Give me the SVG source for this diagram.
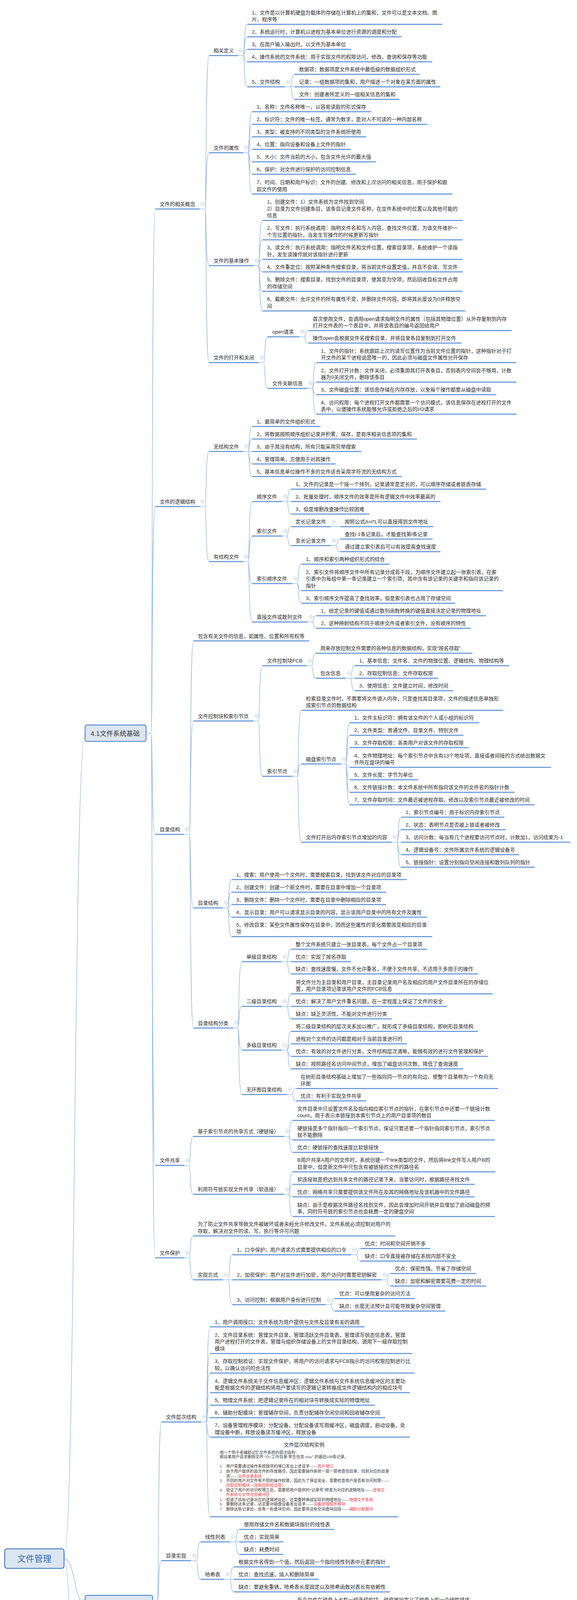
<svg xmlns="http://www.w3.org/2000/svg" xmlns:xlink="http://www.w3.org/1999/xlink" width="1478" height="6091" viewBox="0 0 1478 6091">
<style>
.t{font-family:"Liberation Sans","Noto Sans CJK SC",sans-serif;font-size:13px;fill:#2a2a2a}
.u{stroke:#5b8ed5;stroke-width:2.5;fill:none}
.c{stroke:#7da5db;stroke-width:1.1;fill:none}
.b{fill:#dce6f2;stroke:#5b8ed5;stroke-width:2.5}
.bt{font-family:"Liberation Sans","Noto Sans CJK SC",sans-serif;font-size:17px;fill:#333}
.im{font-family:"Liberation Serif","Noto Sans CJK SC",serif;font-size:10.2px;fill:#3a3a3a}
.r{fill:#e8474f}
</style>
<defs>
<g id="o"><circle r="4.2" fill="#fff" stroke="#a6b7cc" stroke-width="1"/><path d="M-2.2 0H2.2" stroke="#a6b7cc" stroke-width="1"/></g>
</defs>
<rect width="1478" height="6091" fill="#fff"/>
<g id="connectors">
<path class="c" d="M164 3990C193 3990 189 1877 218 1877M164 3990C193 3990 189 4105 218 4105M164 3990C193 3990 189 5344 218 5344"/>
<path class="c" d="M374 1877H387M387 1877C391 1877 388 535 397.5 535M387 1877C391 1877 388 1296.7 397.5 1296.7M387 1877C391 1877 388 2136 397.5 2136M387 1877C391 1877 388 2983.3 397.5 2983.3M387 1877C391 1877 388 3220 397.5 3220"/>
<path class="c" d="M391 4105H403M403 4105C407 4105 404 3640.3 413.5 3640.3M403 4105C407 4105 404 3995.3 413.5 3995.3M403 4105C407 4105 404 4572 413.5 4572"/>
<path class="c" d="M391 5344H403M403 5344C407 5344 404 5089.3 413.5 5089.3M403 5344C407 5344 404 5600 413.5 5600"/>
<path class="c" d="M511 535H525M525 535C529 535 526 142.3 535.5 142.3M525 535C529 535 526 391 535.5 391M525 535C529 535 526 680 535.5 680M525 535C529 535 526 928.3 535.5 928.3"/>
<path class="c" d="M609.7 142.3H623M623 142.3C627 142.3 624 62.3 633.5 62.3M623 142.3C627 142.3 624 94.3 633.5 94.3M623 142.3C627 142.3 624 126.3 633.5 126.3M623 142.3C627 142.3 624 158.3 633.5 158.3M623 142.3C627 142.3 624 222.3 633.5 222.3"/>
<path class="c" d="M730 222.3H754.6M744 222.3C748 222.3 745 190.3 754.6 190.3M744 222.3C748 222.3 745 254.3 754.6 254.3"/>
<path class="c" d="M623 391H635.5M635.5 391C639.5 391 636.5 286 646 286M635.5 391C639.5 391 636.5 318.3 646 318.3M635.5 391C639.5 391 636.5 350.3 646 350.3M635.5 391C639.5 391 636.5 382.3 646 382.3M635.5 391C639.5 391 636.5 414.3 646 414.3M635.5 391C639.5 391 636.5 446 646 446M635.5 391C639.5 391 636.5 496.7 646 496.7"/>
<path class="c" d="M649.6 680H662M662 680C666 680 663 564.3 672.7 564.3M662 680C666 680 663 614 672.7 614M662 680C666 680 663 664 672.7 664M662 680C666 680 663 696 672.7 696M662 680C666 680 663 745.7 672.7 745.7M662 680C666 680 663 796 672.7 796"/>
<path class="c" d="M663 928.3H675.5M675.5 928.3C679.5 928.3 676.5 862.3 686 862.3M675.5 928.3C679.5 928.3 676.5 994.3 686 994.3"/>
<path class="c" d="M766.5 862.3H779M779 862.3C783 862.3 780 846.3 789.7 846.3M779 862.3C783 862.3 780 878.3 789.7 878.3"/>
<path class="c" d="M787.6 994.3H800M800 994.3C804 994.3 801 928.3 810.7 928.3M800 994.3C804 994.3 801 978.3 810.7 978.3M800 994.3C804 994.3 801 1010.3 810.7 1010.3M800 994.3C804 994.3 801 1060.3 810.7 1060.3"/>
<path class="c" d="M511 1296.7H525M525 1296.7C529 1296.7 526 1155.7 535.5 1155.7M525 1296.7C529 1296.7 526 1437.7 535.5 1437.7"/>
<path class="c" d="M623 1155.7H646M635.5 1155.7C639.5 1155.7 636.5 1091.7 646 1091.7M635.5 1155.7C639.5 1155.7 636.5 1124 646 1124M635.5 1155.7C639.5 1155.7 636.5 1187.7 646 1187.7M635.5 1155.7C639.5 1155.7 636.5 1220 646 1220"/>
<path class="c" d="M623 1437.7H635.5M635.5 1437.7C639.5 1437.7 636.5 1284 646 1284M635.5 1437.7C639.5 1437.7 636.5 1372.3 646 1372.3M635.5 1437.7C639.5 1437.7 636.5 1494 646 1494M635.5 1437.7C639.5 1437.7 636.5 1592.3 646 1592.3"/>
<path class="c" d="M723 1284H745.5M735 1284C739 1284 736 1252.3 745.5 1252.3M735 1284C739 1284 736 1316 745.5 1316"/>
<path class="c" d="M723 1372.3H735M735 1372.3C739 1372.3 736 1348.3 745.5 1348.3M735 1372.3C739 1372.3 736 1396.7 745.5 1396.7"/>
<path class="c" d="M847 1348.3H871.6"/>
<path class="c" d="M847 1396.7H861M861 1396.7C865 1396.7 862 1380 871.6 1380M861 1396.7C865 1396.7 862 1412.3 871.6 1412.3"/>
<path class="c" d="M749 1494H761.5M761.5 1494C765.5 1494 762.5 1444.3 772 1444.3M761.5 1494C765.5 1494 762.5 1512 772 1512M761.5 1494C765.5 1494 762.5 1544.3 772 1544.3"/>
<path class="c" d="M787.6 1592.3H800M800 1592.3C804 1592.3 801 1576.3 810.7 1576.3M800 1592.3C804 1592.3 801 1608.3 810.7 1608.3"/>
<path class="c" d="M471 2136H485M485 2136C489 2136 486 1640.7 495.5 1640.7M485 2136C489 2136 486 1845.7 495.5 1845.7M485 2136C489 2136 486 2324.3 495.5 2324.3M485 2136C489 2136 486 2631.7 495.5 2631.7"/>
<path class="c" d="M649.6 1845.7H662M662 1845.7C666 1845.7 663 1704.3 672.7 1704.3M662 1845.7C666 1845.7 663 1987.3 672.7 1987.3"/>
<path class="c" d="M786 1704.3H798.5M798.5 1704.3C802.5 1704.3 799.5 1672.3 809 1672.3M798.5 1704.3C802.5 1704.3 799.5 1736.3 809 1736.3"/>
<path class="c" d="M885.6 1736.3H908.7M898 1736.3C902 1736.3 899 1704.3 908.7 1704.3M898 1736.3C902 1736.3 899 1768.3 908.7 1768.3"/>
<path class="c" d="M749 1987.3H761.5M761.5 1987.3C765.5 1987.3 762.5 1818.3 772 1818.3M761.5 1987.3C765.5 1987.3 762.5 1955.7 772 1955.7M761.5 1987.3C765.5 1987.3 762.5 2156 772 2156"/>
<path class="c" d="M873.7 1955.7H885.5M885.5 1955.7C889.5 1955.7 886.5 1850.3 896 1850.3M885.5 1955.7C889.5 1955.7 886.5 1882.3 896 1882.3M885.5 1955.7C889.5 1955.7 886.5 1914 896 1914M885.5 1955.7C889.5 1955.7 886.5 1964.3 896 1964.3M885.5 1955.7C889.5 1955.7 886.5 1996.3 896 1996.3M885.5 1955.7C889.5 1955.7 886.5 2028.3 896 2028.3M885.5 1955.7C889.5 1955.7 886.5 2060.3 896 2060.3"/>
<path class="c" d="M1003 2156H1027.7M1017 2156C1021 2156 1018 2092 1027.7 2092M1017 2156C1021 2156 1018 2124 1027.7 2124M1017 2156C1021 2156 1018 2188 1027.7 2188M1017 2156C1021 2156 1018 2220 1027.7 2220"/>
<path class="c" d="M570.5 2324.3H583M583 2324.3C587 2324.3 584 2251.7 593.6 2251.7M583 2324.3C587 2324.3 584 2284 593.6 2284M583 2324.3C587 2324.3 584 2315.7 593.6 2315.7M583 2324.3C587 2324.3 584 2348 593.6 2348M583 2324.3C587 2324.3 584 2397.7 593.6 2397.7"/>
<path class="c" d="M597 2631.7H609M609 2631.7C613 2631.7 610 2462 619.7 2462M609 2631.7C613 2631.7 610 2576.3 619.7 2576.3M609 2631.7C613 2631.7 610 2688.3 619.7 2688.3M609 2631.7C613 2631.7 610 2802 619.7 2802"/>
<path class="c" d="M721 2462H745.5M735 2462C739 2462 736 2430 745.5 2430M735 2462C739 2462 736 2493.3 745.5 2493.3"/>
<path class="c" d="M721.6 2576.3H746M735.5 2576.3C739.5 2576.3 736.5 2544.3 746 2544.3M735.5 2576.3C739.5 2576.3 736.5 2608.3 746 2608.3"/>
<path class="c" d="M721.6 2688.3H735.5M735.5 2688.3C739.5 2688.3 736.5 2640.3 746 2640.3M735.5 2688.3C739.5 2688.3 736.5 2672.3 746 2672.3M735.5 2688.3C739.5 2688.3 736.5 2704.3 746 2704.3M735.5 2688.3C739.5 2688.3 736.5 2736.3 746 2736.3"/>
<path class="c" d="M735.5 2802H748M748 2802C752 2802 749 2786.7 758.3 2786.7M748 2802C752 2802 749 2818.3 758.3 2818.3"/>
<path class="c" d="M472 2983.3H484.5M484.5 2983.3C488.5 2983.3 485.5 2909.3 495 2909.3M484.5 2983.3C488.5 2983.3 485.5 3057.3 495 3057.3"/>
<path class="c" d="M727.3 2909.3H739.5M739.5 2909.3C743.5 2909.3 740.5 2868.3 750 2868.3M739.5 2909.3C743.5 2909.3 740.5 2918.3 750 2918.3M739.5 2909.3C743.5 2909.3 740.5 2950 750 2950"/>
<path class="c" d="M727.3 3057.3H739.5M739.5 3057.3C743.5 3057.3 740.5 3000 750 3000M739.5 3057.3C743.5 3057.3 740.5 3032 750 3032M739.5 3057.3C743.5 3057.3 740.5 3064 750 3064M739.5 3057.3C743.5 3057.3 740.5 3114.3 750 3114.3"/>
<path class="c" d="M472 3220H484.5M484.5 3220C488.5 3220 485.5 3164 495 3164M484.5 3220C488.5 3220 485.5 3276.3 495 3276.3"/>
<path class="c" d="M570.8 3276.3H595.3M584.8 3276.3C588.8 3276.3 585.8 3212.3 595.3 3212.3M584.8 3276.3C588.8 3276.3 585.8 3340 595.3 3340"/>
<path class="c" d="M899.3 3212.3H912.5M912.5 3212.3C916.5 3212.3 913.5 3196.3 923 3196.3M912.5 3212.3C916.5 3212.3 913.5 3228.3 923 3228.3"/>
<path class="c" d="M976.7 3276.3H989.8M989.8 3276.3C993.8 3276.3 990.8 3260.3 1000.3 3260.3M989.8 3276.3C993.8 3276.3 990.8 3292.3 1000.3 3292.3"/>
<path class="c" d="M834 3340H847.2M847.2 3340C851.2 3340 848.2 3324.3 857.7 3324.3M847.2 3340C851.2 3340 848.2 3356.3 857.7 3356.3"/>
<path class="c" d="M515.4 3640.3H527.7M527.7 3640.3C531.7 3640.3 528.7 3396.7 538.2 3396.7M527.7 3640.3C531.7 3640.3 528.7 3465 538.2 3465M527.7 3640.3C531.7 3640.3 528.7 3515 538.2 3515M527.7 3640.3C531.7 3640.3 528.7 3565.3 538.2 3565.3M527.7 3640.3C531.7 3640.3 528.7 3597.3 538.2 3597.3M527.7 3640.3C531.7 3640.3 528.7 3629.3 538.2 3629.3M527.7 3640.3C531.7 3640.3 528.7 3679 538.2 3679M527.7 3640.3C531.7 3640.3 528.7 3883 538.2 3883"/>
<path class="c" d="M489.3 3995.3H503.3M503.3 3995.3C507.3 3995.3 504.3 3947.3 513.8 3947.3M503.3 3995.3C507.3 3995.3 504.3 4043 513.8 4043"/>
<path class="c" d="M588.8 3947.3H613.2M602.7 3947.3C606.7 3947.3 603.7 3915.3 613.2 3915.3M602.7 3947.3C606.7 3947.3 603.7 3979.3 613.2 3979.3"/>
<path class="c" d="M575 4043H599.3M588.8 4043C592.8 4043 589.8 4011.3 599.3 4011.3M588.8 4043C592.8 4043 589.8 4075.3 599.3 4075.3"/>
<path class="c" d="M489.3 4572H503.3M503.3 4572C507.3 4572 504.3 4356 513.8 4356M503.3 4572C507.3 4572 504.3 4788.3 513.8 4788.3"/>
<path class="c" d="M627.9 4356H640.2M640.2 4356C644.2 4356 641.2 4155.3 650.7 4155.3M640.2 4356C644.2 4356 641.2 4339.7 650.7 4339.7M640.2 4356C644.2 4356 641.2 4557 650.7 4557"/>
<path class="c" d="M727.3 4155.3H739.5M739.5 4155.3C743.5 4155.3 740.5 4107.7 750 4107.7M739.5 4155.3C743.5 4155.3 740.5 4139.3 750 4139.3M739.5 4155.3C743.5 4155.3 740.5 4171 750 4171M739.5 4155.3C743.5 4155.3 740.5 4203 750 4203"/>
<path class="c" d="M727.3 4339.7H739.5M739.5 4339.7C743.5 4339.7 740.5 4235.3 750 4235.3M739.5 4339.7C743.5 4339.7 740.5 4267.3 750 4267.3M739.5 4339.7C743.5 4339.7 740.5 4331.3 750 4331.3M739.5 4339.7C743.5 4339.7 740.5 4445.3 750 4445.3"/>
<path class="c" d="M825 4331.3H848M837.5 4331.3C841.5 4331.3 838.5 4299.3 848 4299.3M837.5 4331.3C841.5 4331.3 838.5 4363 848 4363"/>
<path class="c" d="M825 4445.3H848M837.5 4445.3C841.5 4445.3 838.5 4413 848 4413M837.5 4445.3C841.5 4445.3 838.5 4477.3 848 4477.3"/>
<path class="c" d="M727.3 4557H739.5M739.5 4557C743.5 4557 740.5 4509.3 750 4509.3M739.5 4557C743.5 4557 740.5 4541.3 750 4541.3M739.5 4557C743.5 4557 740.5 4605 750 4605"/>
<path class="c" d="M825 4605H848M837.5 4605C841.5 4605 838.5 4573.3 848 4573.3M837.5 4605C841.5 4605 838.5 4637 848 4637"/>
<path class="c" d="M640 4788.3H654M654 4788.3C658 4788.3 655 4669.3 664.5 4669.3M654 4788.3C658 4788.3 655 4701.3 664.5 4701.3M654 4788.3C658 4788.3 655 4776.3 664.5 4776.3M654 4788.3C658 4788.3 655 4851.3 664.5 4851.3M654 4788.3C658 4788.3 655 4908.3 664.5 4908.3"/>
<path class="c" d="M751.8 4776.3H764M764 4776.3C768 4776.3 765 4751.3 774.6 4751.3M764 4776.3C768 4776.3 765 4801 774.6 4801"/>
<path class="c" d="M738 4851.3H762.3"/>
<path class="c" d="M751.8 4908.3H764M764 4908.3C768 4908.3 765 4883.3 774.6 4883.3M764 4908.3C768 4908.3 765 4933.3 774.6 4933.3"/>
<path class="c" d="M489.3 5089.3H503.3M503.3 5089.3C507.3 5089.3 504.3 4992 513.8 4992M503.3 5089.3C507.3 5089.3 504.3 5024 513.8 5024M503.3 5089.3C507.3 5089.3 504.3 5074 513.8 5074M503.3 5089.3C507.3 5089.3 504.3 5106 513.8 5106M503.3 5089.3C507.3 5089.3 504.3 5186 513.8 5186"/>
<path class="c" d="M588.8 5186H601M601 5186C605 5186 602 5138.3 611.6 5138.3M601 5186C605 5186 602 5170 611.6 5170M601 5186C605 5186 602 5202.3 611.6 5202.3M601 5186C605 5186 602 5234.3 611.6 5234.3"/>
<path class="c" d="M515.4 5600H527.7M527.7 5600C531.7 5600 528.7 5298.3 538.2 5298.3M527.7 5600C531.7 5600 528.7 5554 538.2 5554M527.7 5600C531.7 5600 528.7 5903 538.2 5903"/>
<path class="c" d="M640 5298.3H663M652.5 5298.3C656.5 5298.3 653.5 5266.7 663 5266.7M652.5 5298.3C656.5 5298.3 653.5 5330 663 5330"/>
<path class="c" d="M640 5554H652.5M652.5 5554C656.5 5554 653.5 5394 663 5394M652.5 5554C656.5 5554 653.5 5490 663 5490M652.5 5554C656.5 5554 653.5 5585.7 663 5585.7M652.5 5554C656.5 5554 653.5 5650 663 5650M652.5 5554C656.5 5554 653.5 5682.3 663 5682.3M652.5 5554C656.5 5554 653.5 5714.3 663 5714.3"/>
<path class="c" d="M839.8 5394H862.6M852 5394C856 5394 853 5362.3 862.6 5362.3M852 5394C856 5394 853 5426 862.6 5426"/>
<path class="c" d="M876.5 5490H901M890.5 5490C894.5 5490 891.5 5458.3 901 5458.3M890.5 5490C894.5 5490 891.5 5522.3 901 5522.3"/>
<path class="c" d="M807 5585.7H829M818.5 5585.7C822.5 5585.7 819.5 5554 829 5554M818.5 5585.7C822.5 5585.7 819.5 5618.3 829 5618.3"/>
<path class="c" d="M856 5650H880.5M835.7 5682.3H861.8M778.6 5714.3H803"/>
<path class="c" d="M627.9 5903H640.2M640.2 5903C644.2 5903 641.2 5789 650.7 5789M640.2 5903C644.2 5903 641.2 5905.7 650.7 5905.7M640.2 5903C644.2 5903 641.2 6018.3 650.7 6018.3"/>
<path class="c" d="M739.5 5789H751.8M751.8 5789C755.8 5789 752.8 5764 762.3 5764M751.8 5789C755.8 5789 752.8 5814 762.3 5814"/>
<path class="c" d="M713.4 5905.7H725.8M725.8 5905.7C729.8 5905.7 726.8 5864 736.3 5864M725.8 5905.7C729.8 5905.7 726.8 5914 736.3 5914M725.8 5905.7C729.8 5905.7 726.8 5946.3 736.3 5946.3"/>
<path class="c" d="M698.8 6018.3H711M711 6018.3C715 6018.3 712 5978 721.6 5978M711 6018.3C715 6018.3 712 6010 721.6 6010M711 6018.3C715 6018.3 712 6058 721.6 6058"/>
<path class="c" d="M799 6058H810.5M810.5 6058C814.5 6058 811.5 6042.3 821 6042.3M810.5 6058C814.5 6058 811.5 6074.7 821 6074.7"/>
</g>
<g id="root"><rect x="12" y="3965" width="152" height="50" rx="6" fill="#dce6f2" stroke="#4f81bd" stroke-width="2.5"/><text x="88" y="3998" text-anchor="middle" style="font-family:'Liberation Sans','Noto Sans CJK SC',sans-serif;font-size:22px;fill:#2f6bb5">文件管理</text></g>
<g id="b41"><rect class="b" x="218" y="1856" width="156" height="42" rx="5"/><text class="bt" x="232" y="1883.5">4.1文件系统基础</text><use href="#o" x="379" y="1877"/></g>
<g id="b42"><rect class="b" x="218" y="4084" width="173" height="42" rx="5"/><text class="bt" x="232.5" y="4111.5">4.2文件系统的实现</text><use href="#o" x="396" y="4105"/></g>
<g id="b43"><rect class="b" x="218" y="5323" width="173" height="42" rx="5"/><text class="bt" x="232.5" y="5350.5">4.3磁盘组织与管理</text><use href="#o" x="396" y="5344"/></g>
<g id="nodes">
<g id="n0"><text class="t" x="409" y="527">文件的相关概念</text><path class="u" d="M397.5 535H511"/><use href="#o" x="519" y="522"/></g>
<g id="n1"><text class="t" x="547" y="134.3">相关定义</text><path class="u" d="M535.5 142.3H609.7"/><use href="#o" x="617.7" y="129.3"/></g>
<g id="n2"><text class="t" x="645" y="36.7">1、文件是以计算机硬盘为载体的存储在计算机上的集和，文件可以是文本文档、图<tspan x="645" dy="17.6">片、程序等</tspan></text><path class="u" d="M633.5 62.3H1133"/></g>
<g id="n3"><text class="t" x="645" y="86.3">2、系统运行时，计算机以进程为基本单位进行资源的调度和分配</text><path class="u" d="M633.5 94.3H1029"/></g>
<g id="n4"><text class="t" x="645" y="118.3">3、在用户输入输出时，以文件为基本单位</text><path class="u" d="M633.5 126.3H899"/></g>
<g id="n5"><text class="t" x="645" y="150.3">4、操作系统的文件系统：用于实现文件的权限访问，修改，查询和保存等功能</text><path class="u" d="M633.5 158.3H1107"/></g>
<g id="n6"><text class="t" x="645" y="214.3">5、文件结构</text><path class="u" d="M633.5 222.3H730"/><use href="#o" x="738" y="209.3"/></g>
<g id="n7"><text class="t" x="766" y="182.3">数据项：数据项是文件系统中最低级的数据组织形式</text><path class="u" d="M754.6 190.3H1075"/></g>
<g id="n8"><text class="t" x="766" y="214.3">记录：一组数据项的集和，用户描述一个对象在某方面的属性</text><path class="u" d="M754.6 222.3H1128"/></g>
<g id="n9"><text class="t" x="766" y="246.3">文件：创建者所定义的一组相关信息的集和</text><path class="u" d="M754.6 254.3H1023.5"/></g>
<g id="n10"><text class="t" x="547" y="383">文件的属性</text><path class="u" d="M535.5 391H623"/><use href="#o" x="631" y="378"/></g>
<g id="n11"><text class="t" x="657.5" y="278">1、名称：文件名称唯一，以容易读取的形式保存</text><path class="u" d="M646 286H950.7"/></g>
<g id="n12"><text class="t" x="657.5" y="310.3">2、标识符：文件的唯一标签，通常为数字，是对人不可读的一种内部名称</text><path class="u" d="M646 318.3H1094"/></g>
<g id="n13"><text class="t" x="657.5" y="342.3">3、类型：被支持的不同类型的文件系统所使用</text><path class="u" d="M646 350.3H938"/></g>
<g id="n14"><text class="t" x="657.5" y="374.3">4、位置：指向设备和设备上文件的指针</text><path class="u" d="M646 382.3H899"/></g>
<g id="n15"><text class="t" x="657.5" y="406.3">5、大小：文件当前的大小，包含文件允许的最大值</text><path class="u" d="M646 414.3H963"/></g>
<g id="n16"><text class="t" x="657.5" y="438">6、保护：对文件进行保护的访问控制信息</text><path class="u" d="M646 446H912"/></g>
<g id="n17"><text class="t" x="657.5" y="471.1">7、时间、日期和用户标识：文件的创建、修改和上次访问的相关信息，用于保护和跟<tspan x="657.5" dy="17.6">踪文件的使用</tspan></text><path class="u" d="M646 496.7H1159"/></g>
<g id="n18"><text class="t" x="547" y="672">文件的基本操作</text><path class="u" d="M535.5 680H649.6"/><use href="#o" x="657.6" y="667"/></g>
<g id="n19"><text class="t" x="684" y="521.1">1、创建文件：1）文件系统为文件找到空间<tspan x="684" dy="17.6">2）目录为文件创建条目，该条目记录文件名称，在文件系统中的位置以及其他可能的</tspan><tspan x="684" dy="17.6">信息</tspan></text><path class="u" d="M672.7 564.3H1185"/></g>
<g id="n20"><text class="t" x="684" y="588.4">2、写文件：执行系统调用：指明文件名和写入内容，查找文件位置，为该文件维护一<tspan x="684" dy="17.6">个写位置的指针，当发生写操作的时候更新写指针</tspan></text><path class="u" d="M672.7 614H1185"/></g>
<g id="n21"><text class="t" x="684" y="638.4">3、读文件：执行系统调用：指明文件名和文件位置，搜索目录项，系统维护一个读指<tspan x="684" dy="17.6">针，发生读操作就对该指针进行更新</tspan></text><path class="u" d="M672.7 664H1185"/></g>
<g id="n22"><text class="t" x="684" y="688">4、文件重定位：按照某种条件搜索目录，将当前文件设置定值，并且不会读、写文件</text><path class="u" d="M672.7 696H1185"/></g>
<g id="n23"><text class="t" x="684" y="720.1">5、删除文件：搜索目录，找到文件的目录项，使其变为空项，然后回收目标文件占用<tspan x="684" dy="17.6">的存储空间</tspan></text><path class="u" d="M672.7 745.7H1185"/></g>
<g id="n24"><text class="t" x="684" y="770.4">6、截断文件：允许文件的所有属性不变，并删除文件内容，即将其长度设为0并释放空<tspan x="684" dy="17.6">间</tspan></text><path class="u" d="M672.7 796H1192"/></g>
<g id="n25"><text class="t" x="547" y="920.3">文件的打开和关闭</text><path class="u" d="M535.5 928.3H663"/><use href="#o" x="671" y="915.3"/></g>
<g id="n26"><text class="t" x="697.5" y="854.3">open请求</text><path class="u" d="M686 862.3H766.5"/><use href="#o" x="774.5" y="849.3"/></g>
<g id="n27"><text class="t" x="801" y="820.7">首次使用文件，会调用open请求指明文件的属性（包括其物理位置）从外存复制到内存<tspan x="801" dy="17.6">打开文件表的一个表目中，并将该表目的编号返回给用户</tspan></text><path class="u" d="M789.7 846.3H1311"/></g>
<g id="n28"><text class="t" x="801" y="870.3">操作open会根据文件名搜索目录，并将目录条目复制到打开文件</text><path class="u" d="M789.7 878.3H1182"/></g>
<g id="n29"><text class="t" x="697.5" y="986.3">文件关联信息</text><path class="u" d="M686 994.3H787.6"/><use href="#o" x="795.6" y="981.3"/></g>
<g id="n30"><text class="t" x="822" y="902.7">1、文件的指针：系统跟踪上次的读写位置作为当前文件位置的指针，这种指针对于打<tspan x="822" dy="17.6">开文件的某个进程说是唯一的，因此必须与磁盘文件属性分开保存</tspan></text><path class="u" d="M810.7 928.3H1323"/></g>
<g id="n31"><text class="t" x="822" y="952.7">2、文件打开计数：文件关闭，必须重用其打开表条目，否则表内空间会不够用，计数<tspan x="822" dy="17.6">器为0关闭文件，删除该条目</tspan></text><path class="u" d="M810.7 978.3H1323"/></g>
<g id="n32"><text class="t" x="822" y="1002.3">3、文件磁盘位置：该信息存储在内存存放，以免每个操作都要从磁盘中读取</text><path class="u" d="M810.7 1010.3H1271"/></g>
<g id="n33"><text class="t" x="822" y="1034.7">4、访问权限：每个进程打开文件都需要一个访问模式，该信息保存在进程打开的文件<tspan x="822" dy="17.6">表中，以便操作系统能够允许或拒绝之后的I/O请求</tspan></text><path class="u" d="M810.7 1060.3H1323"/></g>
<g id="n34"><text class="t" x="409" y="1288.7">文件的逻辑结构</text><path class="u" d="M397.5 1296.7H511"/><use href="#o" x="519" y="1283.7"/></g>
<g id="n35"><text class="t" x="547" y="1147.7">无结构文件</text><path class="u" d="M535.5 1155.7H623"/><use href="#o" x="631" y="1142.7"/></g>
<g id="n36"><text class="t" x="657.5" y="1083.7">1、最简单的文件组织形式</text><path class="u" d="M646 1091.7H821"/></g>
<g id="n37"><text class="t" x="657.5" y="1116">2、将数据按照顺序组织记录并积累、保存，是有序相关信息项的集和</text><path class="u" d="M646 1124H1068"/></g>
<g id="n38"><text class="t" x="657.5" y="1147.7">3、由于其没有结构，所有只能采用穷举搜索</text><path class="u" d="M646 1155.7H925"/></g>
<g id="n39"><text class="t" x="657.5" y="1179.7">4、管理简单，方便用于对其操作</text><path class="u" d="M646 1187.7H860"/></g>
<g id="n40"><text class="t" x="657.5" y="1212">5、基本信息单位操作不多的文件适合采用字符流的无结构方式</text><path class="u" d="M646 1220H1029"/></g>
<g id="n41"><text class="t" x="547" y="1429.7">有结构文件</text><path class="u" d="M535.5 1437.7H623"/><use href="#o" x="631" y="1424.7"/></g>
<g id="n42"><text class="t" x="657.5" y="1276">顺序文件</text><path class="u" d="M646 1284H723"/><use href="#o" x="731" y="1271"/></g>
<g id="n43"><text class="t" x="757" y="1244.3">1、文件的记录是一个接一个排列，记录通常是定长的，可以顺序存储或者链表存储</text><path class="u" d="M745.5 1252.3H1245"/></g>
<g id="n44"><text class="t" x="757" y="1276">2、批量处理时，顺序文件的效率是所有逻辑文件中效率最高的</text><path class="u" d="M745.5 1284H1128"/></g>
<g id="n45"><text class="t" x="757" y="1308">3、但是增删改查操作比较困难</text><path class="u" d="M745.5 1316H946"/></g>
<g id="n46"><text class="t" x="657.5" y="1364.3">索引文件</text><path class="u" d="M646 1372.3H723"/><use href="#o" x="731" y="1359.3"/></g>
<g id="n47"><text class="t" x="757" y="1340.3">定长记录文件</text><path class="u" d="M745.5 1348.3H847"/><use href="#o" x="855" y="1335.3"/></g>
<g id="n48"><text class="t" x="883" y="1340.3">按照公式A=i*L可以直接得到文件地址</text><path class="u" d="M871.6 1348.3H1110"/></g>
<g id="n49"><text class="t" x="757" y="1388.7">变长记录文件</text><path class="u" d="M745.5 1396.7H847"/><use href="#o" x="855" y="1383.7"/></g>
<g id="n50"><text class="t" x="883" y="1372">查找i-1条记录后，才能查找第i条记录</text><path class="u" d="M871.6 1380H1108"/></g>
<g id="n51"><text class="t" x="883" y="1404.3">通过建立索引表后可以有效提高查找速度</text><path class="u" d="M871.6 1412.3H1128"/></g>
<g id="n52"><text class="t" x="657.5" y="1486">索引顺序文件</text><path class="u" d="M646 1494H749"/><use href="#o" x="757" y="1481"/></g>
<g id="n53"><text class="t" x="783.5" y="1436.3">1、顺序和索引两种组织形式的结合</text><path class="u" d="M772 1444.3H998"/></g>
<g id="n54"><text class="t" x="783.5" y="1468.8">2、索引文件将顺序文件中所有记录分成若干段，为顺序文件建立起一张索引表，在索<tspan x="783.5" dy="17.6">引表中为每组中第一条记录建立一个索引项，其中含有该记录的关键字和指向该记录的</tspan><tspan x="783.5" dy="17.6">指针</tspan></text><path class="u" d="M772 1512H1289"/></g>
<g id="n55"><text class="t" x="783.5" y="1536.3">3、索引顺序文件提高了查找效率，但是索引表也占用了存储空间</text><path class="u" d="M772 1544.3H1166"/></g>
<g id="n56"><text class="t" x="657.5" y="1584.3">直接文件或散列文件</text><path class="u" d="M646 1592.3H787.6"/><use href="#o" x="795.6" y="1579.3"/></g>
<g id="n57"><text class="t" x="822" y="1568.3">1、给定记录的键值或通过散列函数转换的键值直接决定记录的物理地址</text><path class="u" d="M810.7 1576.3H1245"/></g>
<g id="n58"><text class="t" x="822" y="1600.3">2、这种映射结构不同于顺序文件或者索引文件，没有顺序的特性</text><path class="u" d="M810.7 1608.3H1206"/></g>
<g id="n59"><text class="t" x="409" y="2128">目录结构</text><path class="u" d="M397.5 2136H471"/><use href="#o" x="479" y="2123"/></g>
<g id="n60"><text class="t" x="507" y="1632.7">包含有关文件的信息，如属性、位置和所有权等</text><path class="u" d="M495.5 1640.7H792"/></g>
<g id="n61"><text class="t" x="507" y="1837.7">文件控制块和索引节点</text><path class="u" d="M495.5 1845.7H649.6"/><use href="#o" x="657.6" y="1832.7"/></g>
<g id="n62"><text class="t" x="684" y="1696.3">文件控制块FCB</text><path class="u" d="M672.7 1704.3H786"/><use href="#o" x="794" y="1691.3"/></g>
<g id="n63"><text class="t" x="820.5" y="1664.3">用来存放控制文件需要的各种信息的数据结构，实现“按名存取”</text><path class="u" d="M809 1672.3H1210"/></g>
<g id="n64"><text class="t" x="820.5" y="1728.3">包含信息</text><path class="u" d="M809 1736.3H885.6"/><use href="#o" x="893.6" y="1723.3"/></g>
<g id="n65"><text class="t" x="920" y="1696.3">1、基本信息：文件名、文件的物理位置、逻辑结构、物理结构等</text><path class="u" d="M908.7 1704.3H1304"/></g>
<g id="n66"><text class="t" x="920" y="1728.3">2、存取控制信息：文件存取权限</text><path class="u" d="M908.7 1736.3H1122"/></g>
<g id="n67"><text class="t" x="920" y="1760.3">3、使用信息：文件建立时间，修改时间</text><path class="u" d="M908.7 1768.3H1161"/></g>
<g id="n68"><text class="t" x="684" y="1979.3">索引节点</text><path class="u" d="M672.7 1987.3H749"/><use href="#o" x="757" y="1974.3"/></g>
<g id="n69"><text class="t" x="783.5" y="1792.7">检索目录文件时，不需要将文件调入内存，只是查找其目录项，文件的描述信息单独形<tspan x="783.5" dy="17.6">成索引节点的数据结构</tspan></text><path class="u" d="M772 1818.3H1289"/></g>
<g id="n70"><text class="t" x="783.5" y="1947.7">磁盘索引节点</text><path class="u" d="M772 1955.7H873.7"/><use href="#o" x="881.7" y="1942.7"/></g>
<g id="n71"><text class="t" x="907.5" y="1842.3">1、文件主标识符：拥有该文件的个人或小组的标识符</text><path class="u" d="M896 1850.3H1227"/></g>
<g id="n72"><text class="t" x="907.5" y="1874.3">2、文件类型：普通文件、目录文件、特别文件</text><path class="u" d="M896 1882.3H1187"/></g>
<g id="n73"><text class="t" x="907.5" y="1906">3、文件存取权限：各类用户对该文件的存取权限</text><path class="u" d="M896 1914H1201"/></g>
<g id="n74"><text class="t" x="907.5" y="1938.7">4、文件物理地址：每个索引节点中含有13个地址项，直接或者间接的方式给出数据文<tspan x="907.5" dy="17.6">件所在盘块的编号</tspan></text><path class="u" d="M896 1964.3H1411.5"/></g>
<g id="n75"><text class="t" x="907.5" y="1988.3">5、文件长度：字节为单位</text><path class="u" d="M896 1996.3H1071"/></g>
<g id="n76"><text class="t" x="907.5" y="2020.3">6、文件链接计数：本文件系统中所有指向该文件的文件名的指针计数</text><path class="u" d="M896 2028.3H1318"/></g>
<g id="n77"><text class="t" x="907.5" y="2052.3">7、文件存取时间：文件最近被进程存取，修改以及索引节点最近被修改的时间</text><path class="u" d="M896 2060.3H1369.5"/></g>
<g id="n78"><text class="t" x="783.5" y="2148">文件打开后内存索引节点增加的内容</text><path class="u" d="M772 2156H1003"/><use href="#o" x="1011" y="2143"/></g>
<g id="n79"><text class="t" x="1039" y="2084">1、索引节点编号：用于标识内存索引节点</text><path class="u" d="M1027.7 2092H1292"/></g>
<g id="n80"><text class="t" x="1039" y="2116">2、状态：表明节点是否被上锁或者被修改</text><path class="u" d="M1027.7 2124H1295"/></g>
<g id="n81"><text class="t" x="1039" y="2148">3、访问计数：每当有几个进程要访问节点时，计数加1，访问结束为-1</text><path class="u" d="M1027.7 2156H1460.5"/></g>
<g id="n82"><text class="t" x="1039" y="2180">4、逻辑设备号：文件所属文件系统的逻辑设备号</text><path class="u" d="M1027.7 2188H1330"/></g>
<g id="n83"><text class="t" x="1039" y="2212">5、链接指针：设置分别指向空闲连接和散列队列的指针</text><path class="u" d="M1027.7 2220H1369.5"/></g>
<g id="n84"><text class="t" x="507" y="2316.3">目录结构</text><path class="u" d="M495.5 2324.3H570.5"/><use href="#o" x="578.5" y="2311.3"/></g>
<g id="n85"><text class="t" x="605" y="2243.7">1、搜索：用户使用一个文件时，需要搜索目录，找到该文件对应的目录项</text><path class="u" d="M593.6 2251.7H1042"/></g>
<g id="n86"><text class="t" x="605" y="2276">2、创建文件：创建一个新文件时，需要在目录中增加一个目录项</text><path class="u" d="M593.6 2284H989"/></g>
<g id="n87"><text class="t" x="605" y="2307.7">3、删除文件：删除一个文件时，需要在目录中删除相应的目录项</text><path class="u" d="M593.6 2315.7H989"/></g>
<g id="n88"><text class="t" x="605" y="2340">4、显示目录：用户可以请求显示目录的内容，显示该用户目录中的所有文件及属性</text><path class="u" d="M593.6 2348H1094"/></g>
<g id="n89"><text class="t" x="605" y="2372.1">5、修改目录：某些文件属性保存在目录中，因而这些属性的变化需要改变相应的目录<tspan x="605" dy="17.6">项</tspan></text><path class="u" d="M593.6 2397.7H1107"/></g>
<g id="n90"><text class="t" x="507" y="2623.7">目录结构分类</text><path class="u" d="M495.5 2631.7H597"/><use href="#o" x="605" y="2618.7"/></g>
<g id="n91"><text class="t" x="631" y="2454">单级目录结构</text><path class="u" d="M619.7 2462H721"/><use href="#o" x="729" y="2449"/></g>
<g id="n92"><text class="t" x="757" y="2422">整个文件系统只建立一张目录表，每个文件占一个目录项</text><path class="u" d="M745.5 2430H1094"/></g>
<g id="n93"><text class="t" x="757" y="2454">优点：实现了按名存取</text><path class="u" d="M745.5 2462H899"/></g>
<g id="n94"><text class="t" x="757" y="2485.3">缺点：查找速度慢，文件不允许重名，不便于文件共享，不适用于多用于的操作</text><path class="u" d="M745.5 2493.3H1224"/></g>
<g id="n95"><text class="t" x="631" y="2568.3">二级目录结构</text><path class="u" d="M619.7 2576.3H721.6"/><use href="#o" x="729.6" y="2563.3"/></g>
<g id="n96"><text class="t" x="757.5" y="2518.7">将文件分为主目录和用户目录，主目录记录用户名及相应的用户文件目录所在的存储位<tspan x="757.5" dy="17.6">置，用户目录项记录该用户文件的FCB信息</tspan></text><path class="u" d="M746 2544.3H1262"/></g>
<g id="n97"><text class="t" x="757.5" y="2568.3">优点：解决了用户文件重名问题，在一定程度上保证了文件的安全</text><path class="u" d="M746 2576.3H1145"/></g>
<g id="n98"><text class="t" x="757.5" y="2600.3">缺点：缺乏灵活性，不能对文件进行分类</text><path class="u" d="M746 2608.3H1003"/></g>
<g id="n99"><text class="t" x="631" y="2680.3">多级目录结构</text><path class="u" d="M619.7 2688.3H721.6"/><use href="#o" x="729.6" y="2675.3"/></g>
<g id="n100"><text class="t" x="757.5" y="2632.3">将二级目录结构的层次关系加以推广，就形成了多级目录结构，即树形目录结构</text><path class="u" d="M746 2640.3H1224.5"/></g>
<g id="n101"><text class="t" x="757.5" y="2664.3">进程对个文件的访问都是相对于当前目录进行的</text><path class="u" d="M746 2672.3H1042"/></g>
<g id="n102"><text class="t" x="757.5" y="2696.3">优点：有效的对文件进行分类，文件结构层次清晰，能够有效的进行文件管理和保护</text><path class="u" d="M746 2704.3H1250"/></g>
<g id="n103"><text class="t" x="757.5" y="2728.3">缺点：按照路径名访问中间节点，增加了磁盘访问次数，降低了查询速度</text><path class="u" d="M746 2736.3H1186"/></g>
<g id="n104"><text class="t" x="631" y="2794">无环图目录结构</text><path class="u" d="M619.7 2802H735.5"/><use href="#o" x="743.5" y="2789"/></g>
<g id="n105"><text class="t" x="770" y="2761.1">在树形目录结构基础上增加了一些指向同一节点的有向边，使整个目录称为一个有向无<tspan x="770" dy="17.6">环图</tspan></text><path class="u" d="M758.3 2786.7H1276"/></g>
<g id="n106"><text class="t" x="770" y="2810.3">优点：有利于实现文件共享</text><path class="u" d="M758.3 2818.3H938"/></g>
<g id="n107"><text class="t" x="409" y="2975.3">文件共享</text><path class="u" d="M397.5 2983.3H472"/><use href="#o" x="480" y="2970.3"/></g>
<g id="n108"><text class="t" x="506.5" y="2901.3">基于索引节点的共享方式（硬链接）</text><path class="u" d="M495 2909.3H727.3"/><use href="#o" x="735.3" y="2896.3"/></g>
<g id="n109"><text class="t" x="761.5" y="2842.7">文件目录中只设置文件名及指向相应索引节点的指针，在索引节点中还要一个链接计数<tspan x="761.5" dy="17.6">count，用于表示本链接到本索引节点上的用户目录项的数目</tspan></text><path class="u" d="M750 2868.3H1267.6"/></g>
<g id="n110"><text class="t" x="761.5" y="2892.7">硬链接是多个指针指向一个索引节点，保证只要还要一个指针指向索引节点，索引节点<tspan x="761.5" dy="17.6">就不能删除</tspan></text><path class="u" d="M750 2918.3H1267.6"/></g>
<g id="n111"><text class="t" x="761.5" y="2942">优点：硬链接的查找速度比软链接快</text><path class="u" d="M750 2950H982.4"/></g>
<g id="n112"><text class="t" x="506.5" y="3049.3">利用符号链实现文件共享（软连接）</text><path class="u" d="M495 3057.3H727.3"/><use href="#o" x="735.3" y="3044.3"/></g>
<g id="n113"><text class="t" x="761.5" y="2974.4">B用户共享A用户的文件时，系统创建一个link类型的文件，然后将link文件写入用户B的<tspan x="761.5" dy="17.6">目录中，但是新文件中只包含有被链接的文件的路径名</tspan></text><path class="u" d="M750 3000H1269"/></g>
<g id="n114"><text class="t" x="761.5" y="3024">软连接就是把达到共享文件的路径记录下来，当要访问时，根据路径寻找文件</text><path class="u" d="M750 3032H1216"/></g>
<g id="n115"><text class="t" x="761.5" y="3056">优点：网络共享只需要提供该文件所在及其的网络地址及该机器中的文件路径</text><path class="u" d="M750 3064H1216"/></g>
<g id="n116"><text class="t" x="761.5" y="3088.7">缺点：由于是根据文件路径名找到文件，因此会增加时间开销并且增加了启动磁盘的频<tspan x="761.5" dy="17.6">率，同时符号链的索引节点也会耗费一定的硬盘空间</tspan></text><path class="u" d="M750 3114.3H1267.6"/></g>
<g id="n117"><text class="t" x="409" y="3212">文件保护</text><path class="u" d="M397.5 3220H472"/><use href="#o" x="480" y="3207"/></g>
<g id="n118"><text class="t" x="506.5" y="3138.4">为了防止文件共享导致文件被破坏或者未经允许修改文件，文件系统必须控制对用户的<tspan x="506.5" dy="17.6">存取，解决对文件的读、写、执行等许可问题</tspan></text><path class="u" d="M495 3164H1012.5"/></g>
<g id="n119"><text class="t" x="506.5" y="3268.3">实现方式</text><path class="u" d="M495 3276.3H570.8"/><use href="#o" x="578.8" y="3263.3"/></g>
<g id="n120"><text class="t" x="606.8" y="3204.3">1、口令保护：用户请求方式需要提供相应的口令</text><path class="u" d="M595.3 3212.3H899.3"/><use href="#o" x="907.3" y="3199.3"/></g>
<g id="n121"><text class="t" x="934.5" y="3188.3">优点：时间和空间开销不多</text><path class="u" d="M923 3196.3H1102"/></g>
<g id="n122"><text class="t" x="934.5" y="3220.3">缺点：口令直接被存储在系统内部不安全</text><path class="u" d="M923 3228.3H1180"/></g>
<g id="n123"><text class="t" x="606.8" y="3268.3">2、加密保护：用户对文件进行加密，用户访问时需要密钥解密</text><path class="u" d="M595.3 3276.3H976.7"/><use href="#o" x="984.7" y="3263.3"/></g>
<g id="n124"><text class="t" x="1011.8" y="3252.3">优点：保密性强，节省了存储空间</text><path class="u" d="M1000.3 3260.3H1219"/></g>
<g id="n125"><text class="t" x="1011.8" y="3284.3">缺点：加密和解密需要花费一定的时间</text><path class="u" d="M1000.3 3292.3H1245"/></g>
<g id="n126"><text class="t" x="606.8" y="3332">3、访问控制：根据用户身份进行控制</text><path class="u" d="M595.3 3340H834"/><use href="#o" x="842" y="3327"/></g>
<g id="n127"><text class="t" x="869" y="3316.3">优点：可以使用复杂的访问方法</text><path class="u" d="M857.7 3324.3H1062"/></g>
<g id="n128"><text class="t" x="869" y="3348.3">缺点：长度无法预计且可能导致复杂空间管理</text><path class="u" d="M857.7 3356.3H1141"/></g>
<g id="n130"><text class="t" x="425" y="3632.3">文件层次结构</text><path class="u" d="M413.5 3640.3H515.4"/><use href="#o" x="523.4" y="3627.3"/></g>
<g id="n131"><text class="t" x="550" y="3388.7">1、用户调用接口：文件系统为用户提供与文件及目录有关的调用</text><path class="u" d="M538.2 3396.7H933.5"/></g>
<g id="n132"><text class="t" x="550" y="3421.8">2、文件目录系统：管理文件目录，管理活跃文件目录表，管理读写状态信息表，管理<tspan x="550" dy="17.6">用户进程打开的文件表，管理与组织存储设备上的文件目录结构，调用下一级存取控制</tspan><tspan x="550" dy="17.6">模块</tspan></text><path class="u" d="M538.2 3465H1055.7"/></g>
<g id="n133"><text class="t" x="550" y="3489.4">3、存取控制验证：实现文件保护，将用户的访问请求与FCB指示的访问权限控制进行比<tspan x="550" dy="17.6">较，以确认访问的合法性</tspan></text><path class="u" d="M538.2 3515H1061.4"/></g>
<g id="n134"><text class="t" x="550" y="3539.7">4、逻辑文件系统关于文件信息缓冲区：逻辑文件系统与文件系统信息缓冲区的主要功<tspan x="550" dy="17.6">能是根据文件的逻辑结构将用户要读写的逻辑记录转换成文件逻辑结构内的相应块号</tspan></text><path class="u" d="M538.2 3565.3H1050"/></g>
<g id="n135"><text class="t" x="550" y="3589.3">5、物理文件系统：把逻辑记录所在的相对块号转换成实际的物理地址</text><path class="u" d="M538.2 3597.3H960.4"/></g>
<g id="n136"><text class="t" x="550" y="3621.3">6、辅助分配模块：管理辅存空间，负责分配辅存空闲空间和回收辅存空间</text><path class="u" d="M538.2 3629.3H986.5"/></g>
<g id="n137"><text class="t" x="550" y="3653.4">7、设备管理程序模块：分配设备，分配设备读写用缓冲区，磁盘调度，启动设备，处<tspan x="550" dy="17.6">理设备中断，释放设备读写缓冲区，释放设备</tspan></text><path class="u" d="M538.2 3679H1050"/></g>
<g id="n138">
<text class="t" x="779" y="3702.5" text-anchor="middle">文件层次结构实例</text>
<text class="im" x="562.7" y="3721.5">用一个例子来辅助记忆文件系统的层次结构：</text>
<text class="im" x="562.7" y="3733">假设某用户请求删除文件 “D:/工作目录/学生信息.xlsx” 的最后100条记录。</text>
<text class="im" x="562.7" y="3757">1.</text><text class="im" x="579" y="3757">用户需要通过操作系统提供的接口发出上述请求——<tspan class="r">用户接口</tspan></text>
<text class="im" x="562.7" y="3770">2.</text><text class="im" x="579" y="3770">由于用户提供的是文件的存放路径，因此需要操作系统一层一层地查找目录，找到对应的目录</text>
<text class="im" x="579" y="3782.5">项——<tspan class="r">文件目录系统</tspan></text>
<text class="im" x="562.7" y="3794">3.</text><text class="im" x="579" y="3794">不同的用户对文件有不同的操作权限，因此为了保证安全，需要检查用户是否有访问权限——</text>
<text class="im r" x="579" y="3806">存取控制模块（存取控制验证层）</text>
<text class="im" x="562.7" y="3818">4.</text><text class="im" x="579" y="3818">验证了用户的访问权限之后，需要把用户提供的“记录号”转变为对应的逻辑地址——<tspan class="r">逻辑文</tspan></text>
<text class="im r" x="579" y="3830">件系统与文件信息缓冲区</text>
<text class="im" x="562.7" y="3842.5">5.</text><text class="im" x="579" y="3842.5">知道了目标记录对应的逻辑地址后，还需要转换成实际的物理地址——<tspan class="r">物理文件系统</tspan></text>
<text class="im" x="562.7" y="3854">6.</text><text class="im" x="579" y="3854">要删除这条记录，必定要对磁盘设备发出请求——<tspan class="r">设备管理程序模块</tspan></text>
<text class="im" x="562.7" y="3866.5">7.</text><text class="im" x="579" y="3866.5">删除这些记录后，会有一些盘块空闲，因此要将这些空闲盘块回收——<tspan class="r">辅助分配模块</tspan></text>
<path class="u" d="M538.2 3883H1019"/>
</g>
<g id="n139"><text class="t" x="425" y="3987.3">目录实现</text><path class="u" d="M413.5 3995.3H489.3"/><use href="#o" x="497.3" y="3982.3"/></g>
<g id="n140"><text class="t" x="525.3" y="3939.3">线性列表</text><path class="u" d="M513.8 3947.3H588.8"/><use href="#o" x="596.8" y="3934.3"/></g>
<g id="n141"><text class="t" x="624.7" y="3907.3">使用存储文件名和数据块指针的线性表</text><path class="u" d="M613.2 3915.3H856"/></g>
<g id="n142"><text class="t" x="624.7" y="3939.3">优点：实现简单</text><path class="u" d="M613.2 3947.3H725.7"/></g>
<g id="n143"><text class="t" x="624.7" y="3971.3">缺点：耗费时间</text><path class="u" d="M613.2 3979.3H725.7"/></g>
<g id="n144"><text class="t" x="525.3" y="4035">哈希表</text><path class="u" d="M513.8 4043H575"/><use href="#o" x="583" y="4030"/></g>
<g id="n145"><text class="t" x="610.8" y="4003.3">根据文件名得到一个值，然后返回一个指向线性列表中元素的指针</text><path class="u" d="M599.3 4011.3H998.7"/></g>
<g id="n146"><text class="t" x="610.8" y="4035">优点：查找迅速，插入和删除简单</text><path class="u" d="M599.3 4043H817"/></g>
<g id="n147"><text class="t" x="610.8" y="4067.3">缺点：要避免重锈，哈希表长度固定以及哈希函数对表长有依赖性</text><path class="u" d="M599.3 4075.3H998.7"/></g>
<g id="n148"><text class="t" x="425" y="4564">文件实现</text><path class="u" d="M413.5 4572H489.3"/><use href="#o" x="497.3" y="4559"/></g>
<g id="n149"><text class="t" x="525.3" y="4348">文件的分配方式</text><path class="u" d="M513.8 4356H627.9"/><use href="#o" x="635.9" y="4343"/></g>
<g id="n150"><text class="t" x="662.2" y="4147.3">连续分配</text><path class="u" d="M650.7 4155.3H727.3"/><use href="#o" x="735.3" y="4142.3"/></g>
<g id="n151"><text class="t" x="761.5" y="4099.7">每个文件在磁盘上占有一组连续的块，磁盘地址定义了磁盘上的一个线性排序</text><path class="u" d="M750 4107.7H1214.7"/></g>
<g id="n152"><text class="t" x="761.5" y="4131.3">访存1次</text><path class="u" d="M750 4139.3H819.4"/></g>
<g id="n153"><text class="t" x="761.5" y="4163">优点：实现简单，存取速度快，使得访问磁盘需要的寻道数和寻道时间最小</text><path class="u" d="M750 4171H1200.8"/></g>
<g id="n154"><text class="t" x="761.5" y="4195">缺点：文件长度不宜动态的增加，会产生外部碎片</text><path class="u" d="M750 4203H1058.2"/></g>
<g id="n155"><text class="t" x="662.2" y="4331.7">链接分配</text><path class="u" d="M650.7 4339.7H727.3"/><use href="#o" x="735.3" y="4326.7"/></g>
<g id="n156"><text class="t" x="761.5" y="4227.3">采用离散分配方式，提高了磁盘空间利用率，消除了外部碎片</text><path class="u" d="M750 4235.3H1123.4"/></g>
<g id="n157"><text class="t" x="761.5" y="4259.3">访存n次</text><path class="u" d="M750 4267.3H819.4"/></g>
<g id="n158"><text class="t" x="761.5" y="4323.3">隐式链接</text><path class="u" d="M750 4331.3H825"/><use href="#o" x="833" y="4318.3"/></g>
<g id="n159"><text class="t" x="859.5" y="4291.3">磁盘块分布在磁盘的任何地方，除最后一个盘块，其他盘块都有指向下一个盘块的指针</text><path class="u" d="M848 4299.3H1365.4"/></g>
<g id="n160"><text class="t" x="859.5" y="4323.3">优点：不会有碎片问题，外存利用率高</text><path class="u" d="M848 4331.3H1092.4"/></g>
<g id="n161"><text class="t" x="859.5" y="4355">缺点：不能直接访问，稳定性存在问题</text><path class="u" d="M848 4363H1092.4"/></g>
<g id="n162"><text class="t" x="761.5" y="4437.3">显示链接</text><path class="u" d="M750 4445.3H825"/><use href="#o" x="833" y="4432.3"/></g>
<g id="n163"><text class="t" x="859.5" y="4387.4">把用于链接文件各物理块的指针，从每个物理块的末尾提取出来，显示的存放在内存的<tspan x="859.5" dy="17.6">一张连接表中，整个磁盘设置一张</tspan></text><path class="u" d="M848 4413H1365.4"/></g>
<g id="n164"><text class="t" x="859.5" y="4437.3">优点：显著的提升检索速度，减少了磁盘访问次数</text><path class="u" d="M848 4445.3H1157.6"/></g>
<g id="n165"><text class="t" x="859.5" y="4469.3">缺点，文件分配表需要占用一定的存储空间</text><path class="u" d="M848 4477.3H1118.5"/></g>
<g id="n166"><text class="t" x="662.2" y="4549">索引分配</text><path class="u" d="M650.7 4557H727.3"/><use href="#o" x="735.3" y="4544"/></g>
<g id="n167"><text class="t" x="761.5" y="4501.3">索引分配解决了连接分配不能直接访问的问题</text><path class="u" d="M750 4509.3H1031.3"/></g>
<g id="n168"><text class="t" x="761.5" y="4533.3">m级要访问m+1次</text><path class="u" d="M750 4541.3H880.5"/></g>
<g id="n169"><text class="t" x="761.5" y="4597">优化机制</text><path class="u" d="M750 4605H825"/><use href="#o" x="833" y="4592"/></g>
<g id="n170"><text class="t" x="859.5" y="4565.3">链接方案：一个索引块通常为一个磁盘块，为了处理大文件，可以将多个索引块链接起来</text><path class="u" d="M848 4573.3H1365.4"/></g>
<g id="n171"><text class="t" x="859.5" y="4597">多层索引：第一层索引块指向第二层索引块，第二层索引块指向文件块</text><path class="u" d="M848 4605H1274"/></g>
<g id="n172"><text class="t" x="859.5" y="4629">混合索引：系统即采用直接地址又采用单级索引分配方式或者两级索引分配方式</text><path class="u" d="M848 4637H1327"/></g>
<g id="n173"><text class="t" x="525.3" y="4780.3">文件存储空间管理</text><path class="u" d="M513.8 4788.3H640"/><use href="#o" x="648" y="4775.3"/></g>
<g id="n174"><text class="t" x="676" y="4661.3">文件存储在一个文件卷中，文件卷可以是物理盘中的一部分，也可以是整个物理盘</text><path class="u" d="M664.5 4669.3H1155"/></g>
<g id="n175"><text class="t" x="676" y="4693.3">文件存储设备分成许多大小相同的物理块，以块为单位交换信息</text><path class="u" d="M664.5 4701.3H1051.7"/></g>
<g id="n176"><text class="t" x="676" y="4768.3">空闲块管理</text><path class="u" d="M664.5 4776.3H751.8"/><use href="#o" x="759.8" y="4763.3"/></g>
<g id="n177"><text class="t" x="786" y="4725.7">空闲表法：属于连续分配方式，系统为空闲区建立一张空闲盘块表，每个空闲区第一个<tspan x="786" dy="17.6">盘块号，该区的空闲盘块数等信息</tspan></text><path class="u" d="M774.6 4751.3H1292"/></g>
<g id="n178"><text class="t" x="786" y="4775.4">空闲链表法：将所有的空闲盘区拉成一条空闲链，根据构成链所有的基本元素不同，可<tspan x="786" dy="17.6">以分为空闲盘块链和空闲盘区链</tspan></text><path class="u" d="M774.6 4801H1292"/></g>
<g id="n179"><text class="t" x="676" y="4843.3">位示图法</text><path class="u" d="M664.5 4851.3H738"/><use href="#o" x="746" y="4838.3"/></g>
<g id="n180"><text class="t" x="773.8" y="4825.7">采用二进制的以为来表示一个盘块的使用情况，磁盘上所有的盘块都有一个二进制位与<tspan x="773.8" dy="17.6">之对应</tspan></text><path class="u" d="M762.3 4851.3H1280"/></g>
<g id="n181"><text class="t" x="676" y="4900.3">成组链接法</text><path class="u" d="M664.5 4908.3H751.8"/><use href="#o" x="759.8" y="4895.3"/></g>
<g id="n182"><text class="t" x="786" y="4875.3">UNIX使用，结合了空闲表和空闲链表法客服了表太大的缺点</text><path class="u" d="M774.6 4883.3H1143.8"/></g>
<g id="n183"><text class="t" x="786" y="4907.7">把顺序的n个空闲扇区地址保存在第一个空闲扇区内，其后一个空闲扇区则保存另以顺<tspan x="786" dy="17.6">序空闲扇区的地址</tspan></text><path class="u" d="M774.6 4933.3H1288"/></g>
<g id="n185"><text class="t" x="425" y="5081.3">磁盘结构</text><path class="u" d="M413.5 5089.3H489.3"/><use href="#o" x="497.3" y="5076.3"/></g>
<g id="n186"><text class="t" x="525.3" y="4966.4">表面涂有磁性物质的金属或塑料构成的圆形盘片，通过一个称为磁头的导体线圈从磁盘<tspan x="525.3" dy="17.6">读取数据</tspan></text><path class="u" d="M513.8 4992H1029.7"/></g>
<g id="n187"><text class="t" x="525.3" y="5016">磁盘盘面上的数据存储在一组同心圆中，称为磁道</text><path class="u" d="M513.8 5024H821.8"/></g>
<g id="n188"><text class="t" x="525.3" y="5048.4">一个盘面有上千个磁道，磁道又划分为几百个扇区，每个扇区固定存储大小，一份扇区<tspan x="525.3" dy="17.6">称为一个盘块</tspan></text><path class="u" d="M513.8 5074H1029.7"/></g>
<g id="n189"><text class="t" x="525.3" y="5098">磁盘地址用柱面号-盘面号-扇区号表示</text><path class="u" d="M513.8 5106H755.8"/></g>
<g id="n190"><text class="t" x="525.3" y="5178">磁盘分类</text><path class="u" d="M513.8 5186H588.8"/><use href="#o" x="596.8" y="5173"/></g>
<g id="n191"><text class="t" x="623" y="5130.3">1、固定头磁盘：磁头相对于盘片的径方向固定</text><path class="u" d="M611.6 5138.3H902.5"/></g>
<g id="n192"><text class="t" x="623" y="5162">2、活动头磁盘：每个磁道一个磁头，磁头可以移动</text><path class="u" d="M611.6 5170H927.8"/></g>
<g id="n193"><text class="t" x="623" y="5194.3">3、固定盘磁盘：磁头臂可以来回伸缩定位磁道，磁盘永久固定在磁盘驱动器内</text><path class="u" d="M611.6 5202.3H1084"/></g>
<g id="n194"><text class="t" x="623" y="5226.3">4、可换盘磁盘：可以移动和替换</text><path class="u" d="M611.6 5234.3H825"/></g>
<g id="n195"><text class="t" x="425" y="5592">磁盘调度算法</text><path class="u" d="M413.5 5600H515.4"/><use href="#o" x="523.4" y="5587"/></g>
<g id="n196"><text class="t" x="550" y="5290.3">读写时间组成</text><path class="u" d="M538.2 5298.3H640"/><use href="#o" x="648" y="5285.3"/></g>
<g id="n197"><text class="t" x="674.5" y="5258.7">1、寻找时间：活动头磁盘在读写信息前，将磁头移动到指定磁盘所需要的时间</text><path class="u" d="M663 5266.7H1137.2"/></g>
<g id="n198"><text class="t" x="674.5" y="5290.3">2、延迟时间：磁头定位到某一磁道扇区所需要的时间</text><path class="u" d="M663 5298.3H993"/></g>
<g id="n199"><text class="t" x="674.5" y="5322">3、传输时间：从磁盘读出或向磁盘写入数据经过的时间</text><path class="u" d="M663 5330H1006.8"/></g>
<g id="n200"><text class="t" x="550" y="5546">磁盘调度算法</text><path class="u" d="M538.2 5554H640"/><use href="#o" x="648" y="5541"/></g>
<g id="n201"><text class="t" x="674.5" y="5386">1、先来先服务算法(FCFS)</text><path class="u" d="M663 5394H839.8"/><use href="#o" x="847.8" y="5381"/></g>
<g id="n202"><text class="t" x="874" y="5354.3">按照进程请求访问磁盘的先后顺序进行调度</text><path class="u" d="M862.6 5362.3H1133"/></g>
<g id="n203"><text class="t" x="874" y="5386">优点：公平、实现简单</text><path class="u" d="M862.6 5394H1015"/></g>
<g id="n204"><text class="t" x="874" y="5418">缺点：适用于少量进程访问，如果进程过多算法更倾向于随机调度</text><path class="u" d="M862.6 5426H1262"/></g>
<g id="n205"><text class="t" x="674.5" y="5482">2、最短寻找时间优先算法(SSTF)</text><path class="u" d="M663 5490H876.5"/><use href="#o" x="884.5" y="5477"/></g>
<g id="n206"><text class="t" x="912.5" y="5450.3">选择调度处理的磁道是与当前磁头所在磁道距离最近的磁道</text><path class="u" d="M901 5458.3H1262"/></g>
<g id="n207"><text class="t" x="912.5" y="5482">优点：性能强于先来先服务算法</text><path class="u" d="M901 5490H1106.3"/></g>
<g id="n208"><text class="t" x="912.5" y="5514.3">缺点：容易产生饥饿现象</text><path class="u" d="M901 5522.3H1066.4"/></g>
<g id="n209"><text class="t" x="674.5" y="5577.7">3、扫描算法(SCAN)</text><path class="u" d="M663 5585.7H807"/><use href="#o" x="815" y="5572.7"/></g>
<g id="n210"><text class="t" x="841" y="5546">在磁头当前移动方向上选择与当前磁头所在的磁道距离最近的请求作为下一次服务对象</text><path class="u" d="M829 5554H1347.5"/></g>
<g id="n211"><text class="t" x="841" y="5577.7">优点：寻道性能好，可以避免饥饿现象</text><path class="u" d="M829 5585.7H1074.5"/></g>
<g id="n212"><text class="t" x="841" y="5610.3">缺点：对扫描过的区域不公平，访问局部性方面不如FCFS和SSTF好</text><path class="u" d="M829 5618.3H1239"/></g>
<g id="n213"><text class="t" x="674.5" y="5642">4、循环扫描算法（C-SCAN）</text><path class="u" d="M663 5650H856"/><use href="#o" x="864" y="5637"/></g>
<g id="n214"><text class="t" x="891.5" y="5642">磁头单向移动，回板时直接回到起始段，而不服务任何请求</text><path class="u" d="M880.5 5650H1240.7"/></g>
<g id="n215"><text class="t" x="674.5" y="5674.3">5、LOOK与C-LOOK算法</text><path class="u" d="M663 5682.3H835.7"/><use href="#o" x="843.7" y="5669.3"/></g>
<g id="n216"><text class="t" x="871.5" y="5674.3">在SCAN的基础上改良而来，回到第一个请求处而不是回到起始段</text><path class="u" d="M861.8 5682.3H1258"/></g>
<g id="n217"><text class="t" x="674.5" y="5706.3">对盘面交替编号</text><path class="u" d="M663 5714.3H778.6"/><use href="#o" x="786.6" y="5701.3"/></g>
<g id="n218"><text class="t" x="813" y="5706.3">原因：磁头在读/写一个物理块后，需要经过短暂的处理时间才能开始处理下一块</text><path class="u" d="M803 5714.3H1286.4"/></g>
<g id="n219"><text class="t" x="550" y="5895">磁盘的管理</text><path class="u" d="M538.2 5903H627.9"/><use href="#o" x="635.9" y="5890"/></g>
<g id="n220"><text class="t" x="662.2" y="5781">磁盘初始化</text><path class="u" d="M650.7 5789H739.5"/><use href="#o" x="747.5" y="5776"/></g>
<g id="n221"><text class="t" x="774.5" y="5738.4">低级格式化：磁盘分扇区，为每个扇区采用特别的数据结构（头、数据区域、尾部组<tspan x="774.5" dy="17.6">成），头部含有一些磁盘控制器所使用的信息</tspan></text><path class="u" d="M762.3 5764H1266"/></g>
<g id="n222"><text class="t" x="774.5" y="5788.4">进一步格式化处理：磁盘分区，对物理分区进行逻辑格式化，包括空闲和已分配的空间<tspan x="774.5" dy="17.6">及一个初始为空的目录</tspan></text><path class="u" d="M762.3 5814H1280"/></g>
<g id="n223"><text class="t" x="662.2" y="5897.7">引导块</text><path class="u" d="M650.7 5905.7H713.4"/><use href="#o" x="721.4" y="5892.7"/></g>
<g id="n224"><text class="t" x="747.8" y="5838.4">计算机启动运行自举程序，初始化CPU寄存器、设备控制器和内存等，然后启动操作系<tspan x="747.8" dy="17.6">统</tspan></text><path class="u" d="M736.3 5864H1255.4"/></g>
<g id="n225"><text class="t" x="747.8" y="5888.4">组局程序通常保存在ROM中，在ROM中保留很小的自举块，完整的自举程序保存在启<tspan x="747.8" dy="17.6">动块上</tspan></text><path class="u" d="M736.3 5914H1253"/></g>
<g id="n226"><text class="t" x="747.8" y="5938.3">拥有启动分区的磁盘称为启动磁盘或系统磁盘</text><path class="u" d="M736.3 5946.3H1019"/></g>
<g id="n227"><text class="t" x="662.2" y="6010.3">坏块</text><path class="u" d="M650.7 6018.3H698.8"/><use href="#o" x="706.8" y="6005.3"/></g>
<g id="n228"><text class="t" x="733.5" y="5970">无法使用的扇区</text><path class="u" d="M721.6 5978H837.3"/></g>
<g id="n229"><text class="t" x="733.5" y="6002">对于简单的磁盘，可以逻辑格式化时对整个磁盘进行坏块检查，标明哪些是坏扇区</text><path class="u" d="M721.6 6010H1214.7"/></g>
<g id="n230"><text class="t" x="733.5" y="6050">处理方式</text><path class="u" d="M721.6 6058H799"/><use href="#o" x="807" y="6045"/></g>
<g id="n231"><text class="t" x="833" y="6034.3">简单磁盘：手动处理，对坏块进行标记，程序不会使用</text><path class="u" d="M821 6042.3H1157.6"/></g>
<g id="n232"><text class="t" x="833" y="6066.7">复杂磁盘：控制器维护一个磁盘坏块链表，同时是将一些块作为备用，用于替代坏块</text><path class="u" d="M821 6074.7H1327"/></g>
</g>
</svg>
